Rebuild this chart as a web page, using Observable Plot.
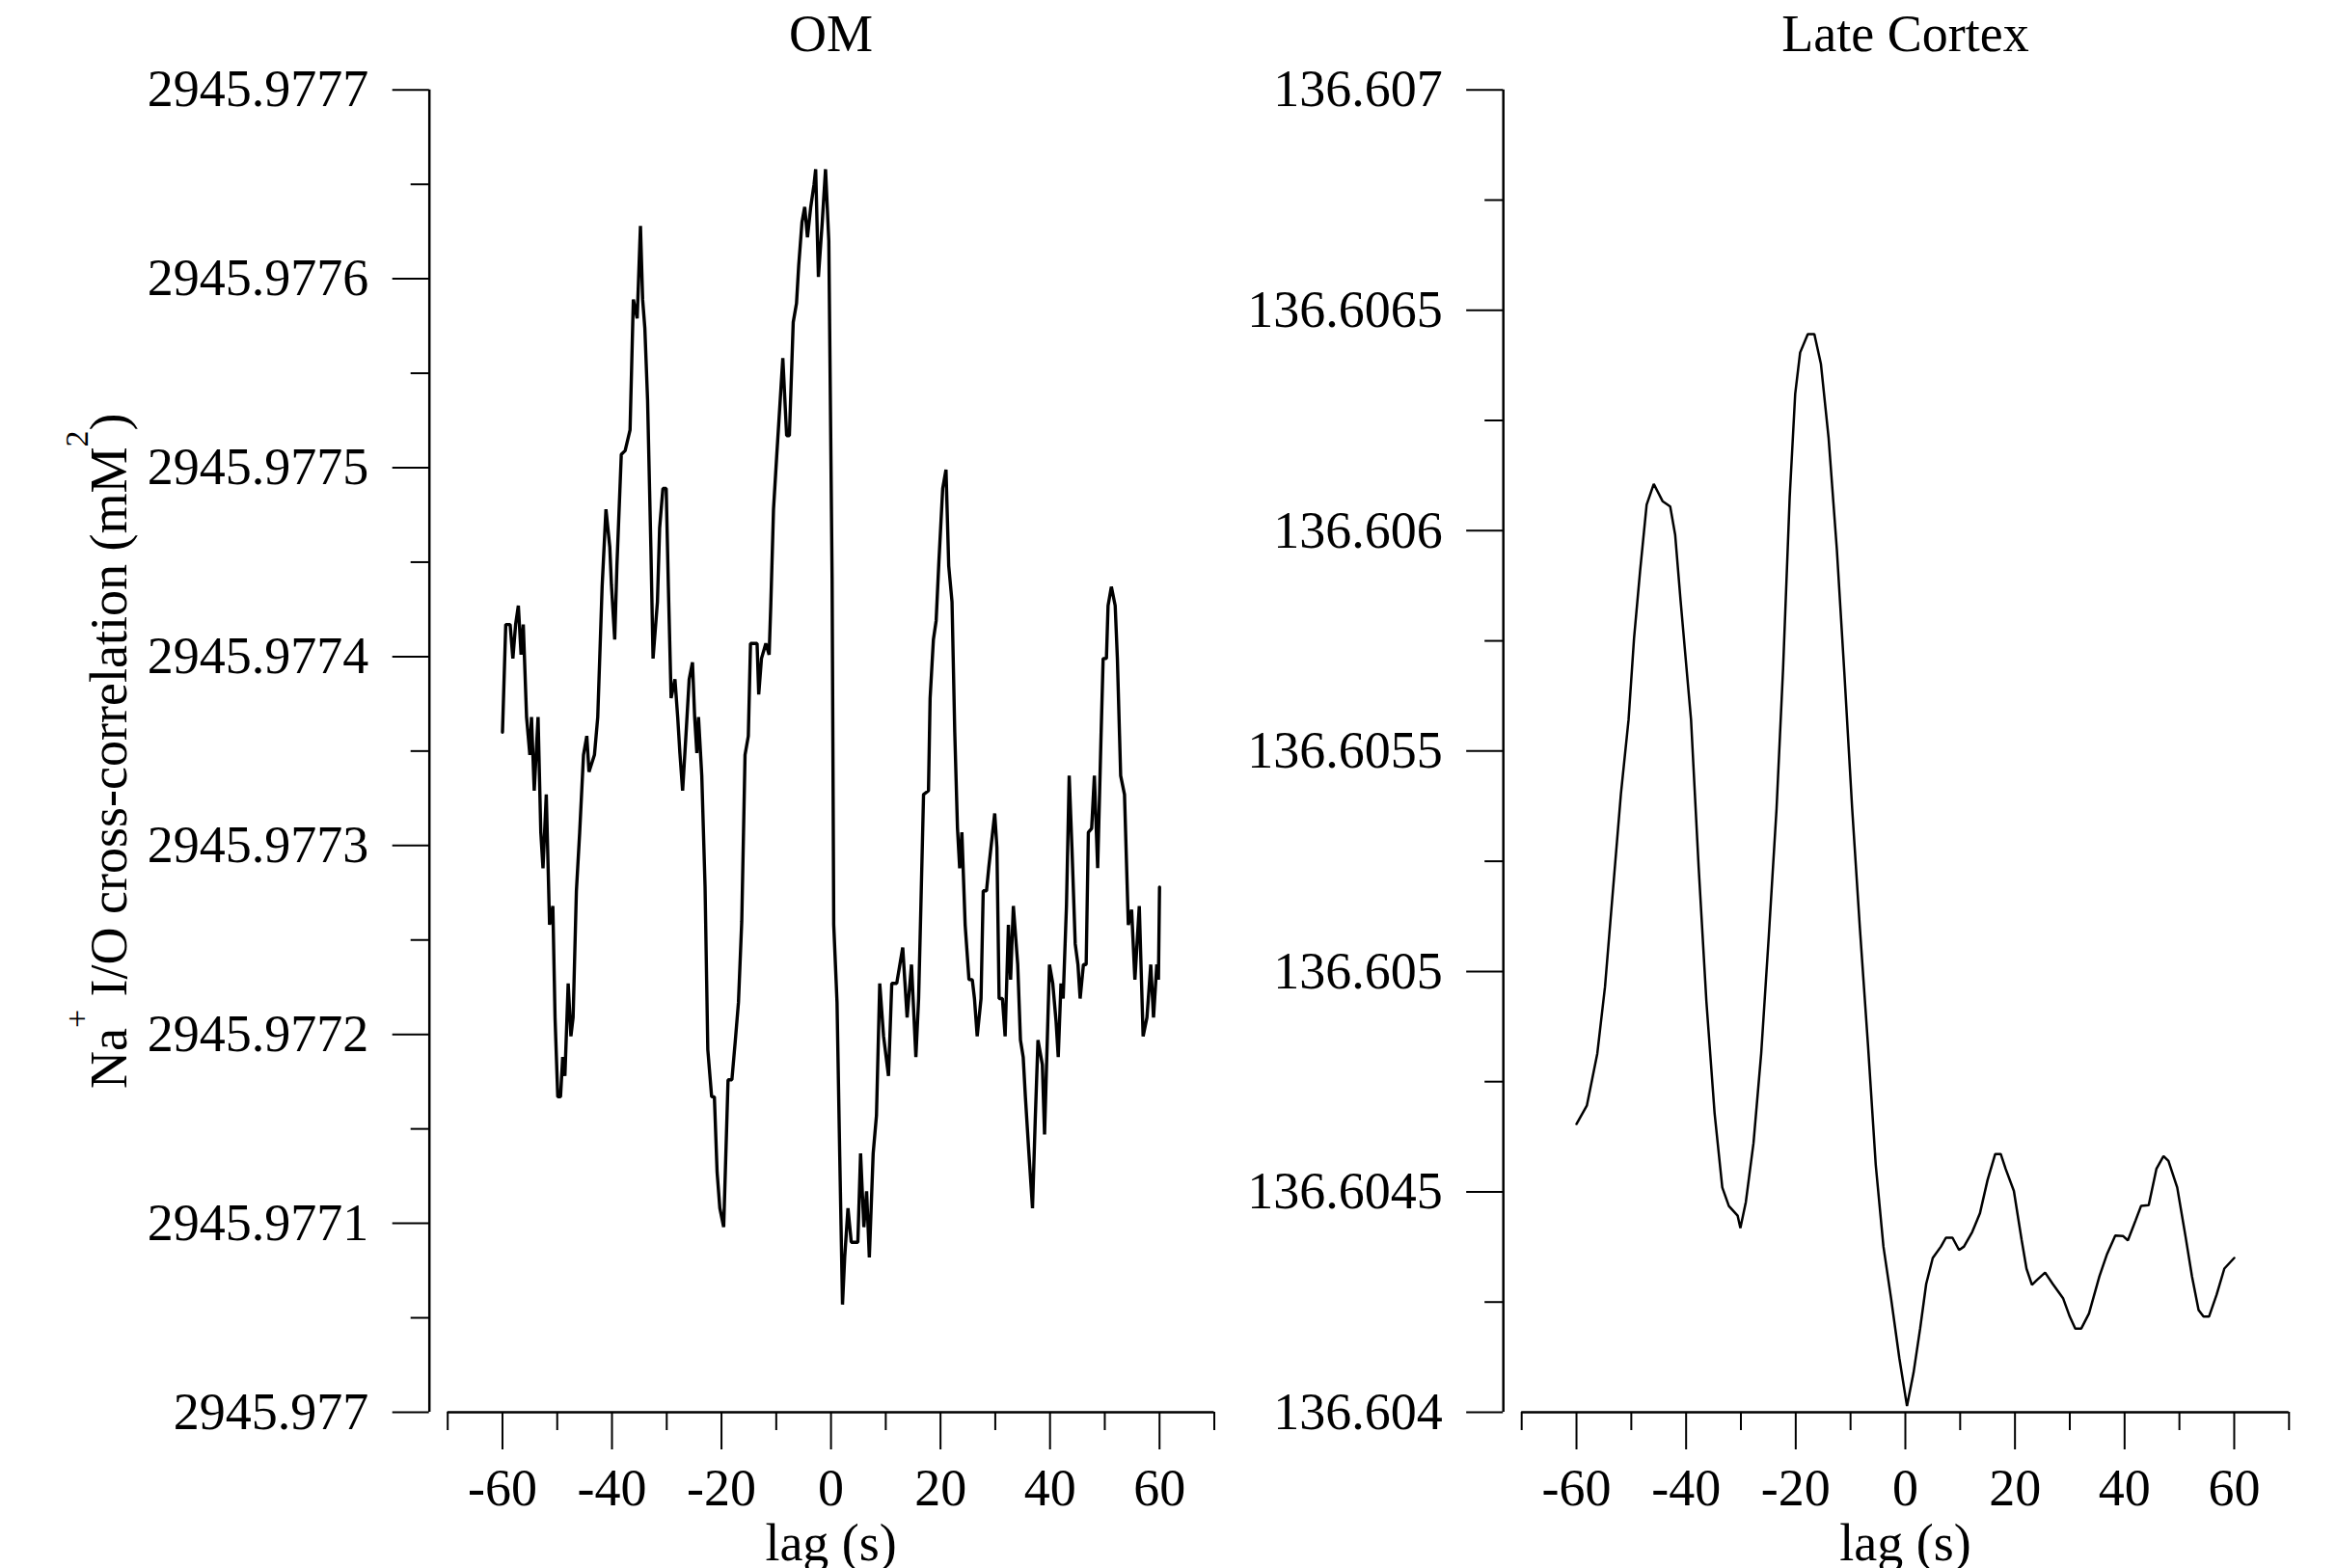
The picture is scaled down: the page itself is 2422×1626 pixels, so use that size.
<!DOCTYPE html>
<html><head><meta charset="utf-8">
<script src="https://cdn.jsdelivr.net/npm/d3@7"></script>
<script src="https://cdn.jsdelivr.net/npm/@observablehq/plot@0.6"></script>
<style>
html,body{margin:0;padding:0;background:#fff;}
#wrap{display:flex;width:2422px;height:1626px;overflow:hidden;background:#fff;}
#wrap svg{display:block;flex:none;}
</style></head><body><div id="wrap"></div>
<script>
// ---- shared axis data ----
const xDomain = [-70, 70];
const xMajorTicks = [-60, -40, -20, 0, 20, 40, 60];
const xMinorTicks = [-70, -50, -30, -10, 10, 30, 50, 70];
const xLabel = "lag (s)";
const yLabelParts = [["Na", false], ["+", true], [" I/O cross-correlation (mM", false], ["2", true], [")", false]];

// ---- OM panel ----
const omTitle = "OM";
const omYDomain = [2945.977, 2945.9777];
const omYTicks = [2945.977, 2945.9771, 2945.9772, 2945.9773, 2945.9774, 2945.9775, 2945.9776, 2945.9777];
const omYMinorTicks = [2945.97705, 2945.97715, 2945.97725, 2945.97735, 2945.97745, 2945.97755, 2945.97765];
const omLag = [-60.0,-59.4,-58.6,-58.1,-57.6,-57.1,-56.6,-56.2,-55.6,-55.0,-54.7,-54.2,-53.5,-53.0,-52.6,-52.0,-51.4,-50.8,-50.4,-49.9,-49.4,-49.0,-48.6,-48.0,-47.5,-47.1,-46.5,-45.9,-45.2,-44.6,-44.2,-43.2,-42.6,-41.8,-41.1,-40.4,-40.1,-39.5,-39.1,-38.3,-37.6,-36.7,-36.1,-35.4,-34.8,-34.4,-34.0,-33.5,-32.9,-32.5,-31.7,-31.3,-30.7,-30.1,-29.7,-29.2,-28.5,-28.0,-27.6,-27.1,-26.5,-25.9,-25.3,-24.9,-24.5,-24.2,-23.6,-23.0,-22.5,-21.8,-21.3,-20.8,-20.3,-19.6,-18.8,-18.1,-17.5,-16.9,-16.3,-15.7,-15.1,-14.7,-13.5,-13.2,-12.7,-11.9,-11.3,-11.0,-10.5,-9.9,-9.4,-8.8,-8.1,-7.6,-6.9,-6.3,-5.9,-5.3,-4.8,-4.3,-3.7,-3.1,-2.8,-2.3,-1.6,-1.0,-0.4,0.2,0.5,1.1,1.6,2.1,2.5,3.1,3.7,4.3,4.9,5.4,6.0,6.5,7.0,7.7,8.3,8.9,9.6,10.5,11.1,12.0,13.1,13.9,14.7,15.5,16.0,16.4,16.9,17.8,18.1,18.7,19.2,19.7,20.4,21.0,21.5,22.1,22.6,23.1,23.5,23.9,24.5,25.2,25.8,26.2,26.7,27.4,27.8,28.4,28.8,29.9,30.3,30.7,31.3,31.8,32.4,32.8,33.3,34.1,34.6,35.1,35.5,36.1,36.8,37.3,37.8,38.6,39.0,39.9,40.5,41.1,41.5,42.0,42.4,43.0,43.5,44.0,44.6,45.1,45.5,46.1,46.6,47.0,47.6,48.1,48.7,49.3,49.7,50.3,50.6,51.2,51.9,52.3,52.9,53.6,54.3,54.9,55.5,56.3,57.0,57.7,58.4,58.9,59.5,59.8,60.0];
const omValue = [2945.977360,2945.977417,2945.977417,2945.977399,2945.977417,2945.977427,2945.977401,2945.977417,2945.977368,2945.977348,2945.977368,2945.977329,2945.977368,2945.977307,2945.977288,2945.977327,2945.977258,2945.977268,2945.977209,2945.977167,2945.977167,2945.977188,2945.977178,2945.977227,2945.977199,2945.977209,2945.977276,2945.977307,2945.977348,2945.977358,2945.977339,2945.977348,2945.977368,2945.977437,2945.977478,2945.977458,2945.977438,2945.977409,2945.977448,2945.977507,2945.977509,2945.977520,2945.977589,2945.977579,2945.977628,2945.977589,2945.977574,2945.977536,2945.977458,2945.977399,2945.977429,2945.977468,2945.977489,2945.977489,2945.977437,2945.977378,2945.977388,2945.977368,2945.977349,2945.977329,2945.977358,2945.977388,2945.977397,2945.977368,2945.977349,2945.977368,2945.977337,2945.977278,2945.977192,2945.977167,2945.977167,2945.977127,2945.977108,2945.977098,2945.977176,2945.977176,2945.977196,2945.977217,2945.977260,2945.977348,2945.977358,2945.977407,2945.977407,2945.977380,2945.977399,2945.977407,2945.977401,2945.977427,2945.977478,2945.977507,2945.977530,2945.977558,2945.977517,2945.977517,2945.977577,2945.977587,2945.977607,2945.977630,2945.977638,2945.977622,2945.977638,2945.977650,2945.977658,2945.977601,2945.977630,2945.977658,2945.977620,2945.977442,2945.977258,2945.977217,2945.977135,2945.977057,2945.977082,2945.977108,2945.977090,2945.977090,2945.977090,2945.977137,2945.977098,2945.977117,2945.977082,2945.977137,2945.977157,2945.977227,2945.977199,2945.977178,2945.977227,2945.977227,2945.977246,2945.977209,2945.977237,2945.977188,2945.977219,2945.977266,2945.977327,2945.977329,2945.977378,2945.977409,2945.977419,2945.977450,2945.977489,2945.977499,2945.977448,2945.977429,2945.977360,2945.977309,2945.977288,2945.977307,2945.977258,2945.977229,2945.977229,2945.977219,2945.977199,2945.977219,2945.977276,2945.977276,2945.977288,2945.977317,2945.977299,2945.977219,2945.977219,2945.977199,2945.977258,2945.977229,2945.977268,2945.977237,2945.977197,2945.977188,2945.977167,2945.977139,2945.977108,2945.977155,2945.977197,2945.977184,2945.977147,2945.977237,2945.977227,2945.977207,2945.977188,2945.977227,2945.977219,2945.977268,2945.977337,2945.977299,2945.977248,2945.977237,2945.977219,2945.977237,2945.977237,2945.977307,2945.977309,2945.977337,2945.977288,2945.977356,2945.977399,2945.977399,2945.977427,2945.977437,2945.977427,2945.977399,2945.977337,2945.977327,2945.977258,2945.977266,2945.977229,2945.977268,2945.977199,2945.977209,2945.977237,2945.977209,2945.977237,2945.977229,2945.977278];

// ---- Late Cortex panel ----
const cortexTitle = "Late Cortex";
const cortexYDomain = [136.604, 136.607];
const cortexYTicks = [136.604, 136.6045, 136.605, 136.6055, 136.606, 136.6065, 136.607];
const cortexYMinorTicks = [136.60425, 136.60475, 136.60525, 136.60575, 136.60625, 136.60675];
const cortexLag = [-60.0,-58.1,-56.2,-54.8,-53.8,-51.9,-50.5,-49.5,-48.4,-47.2,-45.9,-44.3,-42.9,-42.0,-41.0,-39.1,-37.7,-36.3,-34.8,-33.4,-32.2,-30.6,-30.1,-29.1,-27.7,-26.3,-24.9,-23.5,-22.3,-21.1,-20.1,-19.2,-17.8,-16.6,-15.4,-14.0,-12.5,-11.1,-9.7,-8.3,-6.8,-5.4,-4.0,-2.6,-1.1,0.3,1.5,2.7,3.8,5.0,6.5,7.4,8.6,9.8,10.7,12.2,13.6,15.0,16.4,17.4,18.3,19.8,21.2,22.1,23.1,24.0,25.5,26.9,28.8,30.0,31.0,32.1,33.5,35.4,36.8,38.3,39.7,40.6,42.0,43.0,44.4,45.8,47.1,48.0,49.6,51.1,52.3,53.5,54.4,55.4,56.8,58.2,60.0];
const cortexValue = [136.604654,136.604696,136.604814,136.604965,136.605116,136.605402,136.605571,136.605756,136.605908,136.606059,136.606106,136.606067,136.606055,136.605991,136.605840,136.605571,136.605234,136.604932,136.604678,136.604510,136.604468,136.604446,136.604418,136.604477,136.604611,136.604814,136.605083,136.605369,136.605689,136.606076,136.606310,136.606404,136.606446,136.606446,136.606378,136.606210,136.605958,136.605671,136.605369,136.605099,136.604830,136.604561,136.604376,136.604258,136.604123,136.604014,136.604090,136.604190,136.604291,136.604350,136.604376,136.604396,136.604396,136.604368,136.604376,136.604409,136.604451,136.604527,136.604586,136.604586,136.604552,136.604502,136.604392,136.604326,136.604289,136.604300,136.604317,136.604291,136.604258,136.604217,136.604190,136.604190,136.604224,136.604308,136.604359,136.604401,136.604400,136.604390,136.604435,136.604468,136.604470,136.604552,136.604581,136.604570,136.604510,136.604400,136.604308,136.604232,136.604217,136.604217,136.604267,136.604326,136.604350];

const FONT = "'Liberation Serif', 'Times New Roman', Times, serif";
const FS = 54;

function panel({width, marginLeft, marginRight, title, yDomain, yTicks, yMinor, lag, value, lineWidth, withYLabel}) {
  const idx = d3.range(lag.length);
  const marks = [
    Plot.ruleX([xDomain[0]], {dx: -19, strokeWidth: 2.5}),
    Plot.ruleY([yDomain[0]], {strokeWidth: 2.5}),
    Plot.axisY({ticks: yTicks, tickFormat: d => String(d), tickSize: 38, tickPadding: 25, dx: -19, strokeWidth: 2, label: null}),
    Plot.axisY({ticks: yMinor, tickFormat: () => "", tickSize: 19, dx: -19, strokeWidth: 2, label: null}),
    Plot.axisX({ticks: xMajorTicks, tickFormat: d => String(d), tickSize: 39, tickPadding: 19, strokeWidth: 2, label: null}),
    Plot.axisX({ticks: xMinorTicks, tickFormat: () => "", tickSize: 19, strokeWidth: 2, label: null}),
    Plot.line(idx, {x: i => lag[i], y: i => value[i], stroke: "black", strokeWidth: lineWidth, strokeLinejoin: "miter"}),
    Plot.text([title], {frameAnchor: "top", lineAnchor: "bottom", dy: -40, fontSize: FS}),
    Plot.text([xLabel], {frameAnchor: "bottom", lineAnchor: "bottom", dy: 153, fontSize: FS})
  ];
  if (withYLabel) {
    marks.push(Plot.text([yLabelParts.map(p => p[0]).join("")], {
      frameAnchor: "left", rotate: -90, lineAnchor: "bottom", textAnchor: "middle",
      dx: 130 - marginLeft, fontSize: FS
    }));
  }
  return Plot.plot({
    width, height: 1626,
    marginLeft, marginRight, marginTop: 92.7, marginBottom: 162,
    x: {domain: xDomain},
    y: {domain: yDomain},
    style: {fontFamily: FONT, fontSize: FS + "px", background: "white", color: "black", overflow: "visible"},
    marks
  });
}

const left = panel({width: 1270, marginLeft: 463.7, marginRight: 11.5, title: omTitle,
  yDomain: omYDomain, yTicks: omYTicks, yMinor: omYMinorTicks, lag: omLag, value: omValue, lineWidth: 3.4, withYLabel: true});
const right = panel({width: 1152, marginLeft: 307.2, marginRight: 49.2, title: cortexTitle,
  yDomain: cortexYDomain, yTicks: cortexYTicks, yMinor: cortexYMinorTicks, lag: cortexLag, value: cortexValue, lineWidth: 2.5, withYLabel: false});

const wrap = document.getElementById("wrap");
wrap.appendChild(left);
wrap.appendChild(right);

// superscripts in the y label
const full = yLabelParts.map(p => p[0]).join("");
left.querySelectorAll("text").forEach(t => {
  if (t.textContent === full) {
    while (t.firstChild) t.removeChild(t.firstChild);
    const ns = "http://www.w3.org/2000/svg";
    const raise = 40;
    let raised = false;
    yLabelParts.forEach(([s, sup]) => {
      const ts = document.createElementNS(ns, "tspan");
      ts.textContent = s;
      if (sup && !raised) { ts.setAttribute("dy", String(-raise)); raised = true; }
      else if (!sup && raised) { ts.setAttribute("dy", String(raise)); raised = false; }
      if (sup) ts.setAttribute("font-size", "34px");
      t.appendChild(ts);
    });
  }
});
</script></body></html>
